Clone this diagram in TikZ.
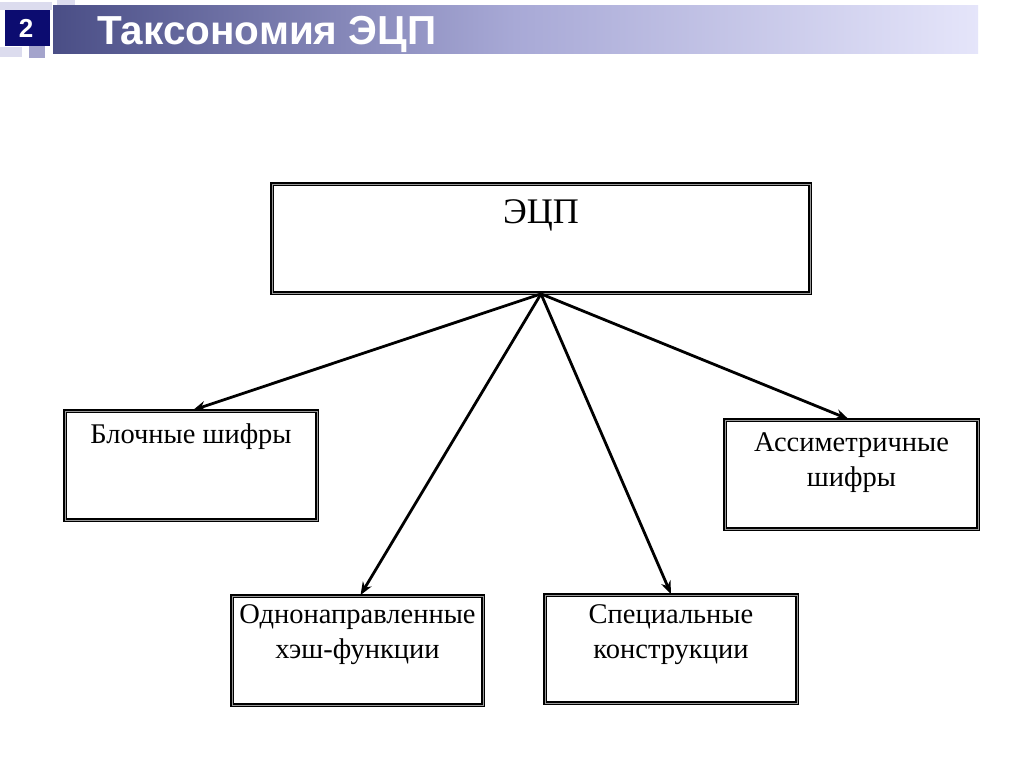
\documentclass[tikz,border=0pt]{standalone}
\usepackage{fontspec}
\setmainfont{Liberation Serif}
\newfontfamily\headfont{Liberation Sans}
\usetikzlibrary{arrows.meta}
\definecolor{navy}{HTML}{0C0C70}
\definecolor{barL}{HTML}{4A4E86}
\definecolor{barM}{HTML}{A8A9D6}
\definecolor{barR}{HTML}{E5E5FA}
\definecolor{sqlight}{HTML}{DCDCEE}
\definecolor{sqmid}{HTML}{A4A4CC}
\tikzset{
  box/.style={draw=black, line width=1.8pt, double=gray!80, double distance=0.8pt,
    fill=white, inner sep=0pt},
  boxtext/.style={font=\fontsize{28.5}{35}\selectfont, align=center, inner sep=0pt, anchor=north},
  conn/.style={line width=2.8pt, -{Stealth[length=13pt,width=10pt]}},
}
\begin{document}
\begin{tikzpicture}[x=1pt,y=-1pt]
\useasboundingbox[fill=white] (0,0) rectangle (1024,767);
% header decorations
\fill[sqlight] (0,2) rectangle (52,10);
\fill[sqlight] (57,0) rectangle (75,6);
\fill[sqlight] (0,47) rectangle (22,57);
\fill[sqmid] (29,46) rectangle (45,58);
\fill[navy] (5,10) rectangle (50,46);
\node[font=\headfont\bfseries\fontsize{26}{26}\selectfont, text=white, anchor=base, inner sep=0pt] (num) at (26,38) {2};
\shade[left color=barL, right color=barR, middle color=barM] (53,6) rectangle (978,54);
\node[font=\headfont\bfseries\fontsize{40.5}{40}\selectfont, text=white, anchor=base west, inner sep=0pt] (title) at (97,45) {Таксономия ЭЦП};
% boxes
\node[box, minimum width=538pt, minimum height=109pt] (root) at (541,238.5) {};
\node[box, minimum width=252pt, minimum height=109pt] (block) at (191,465.5) {};
\node[box, minimum width=253pt, minimum height=109pt] (asym) at (851.5,474.5) {};
\node[box, minimum width=251pt, minimum height=109pt] (hash) at (357.5,650.5) {};
\node[box, minimum width=252pt, minimum height=108pt] (spec) at (671,649) {};
% texts
\node[boxtext, font=\fontsize{36}{40}\selectfont] (troot) at ([yshift=-16pt]root.north) {ЭЦП};
\node[boxtext] (tblock) at ([yshift=-13pt]block.north) {Блочные шифры};
\node[boxtext] (tasym) at ([yshift=-13pt]asym.north) {Ассиметричные\\шифры};
\node[boxtext] (thash) at ([yshift=-9pt]hash.north) {Однонаправленные\\хэш-функции};
\node[boxtext] (tspec) at ([yshift=-10pt]spec.north) {Специальные\\конструкции};
% connectors
\draw[conn] (root.south) -- ([xshift=2pt]block.north);
\draw[conn] (root.south) -- ([xshift=3pt]hash.north);
\draw[conn] (root.south) -- (spec.north);
\draw[conn] (root.south) -- ([xshift=-3pt]asym.north);
\end{tikzpicture}
\end{document}
